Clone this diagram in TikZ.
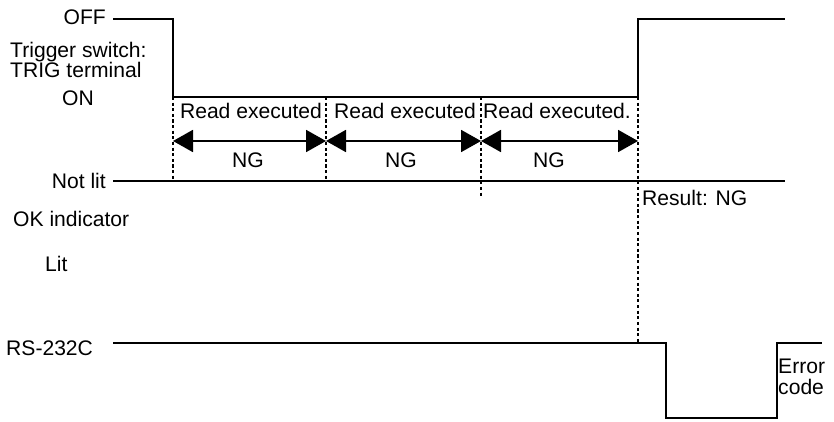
\documentclass[tikz,border=0pt]{standalone}
\usepackage{fontspec}
\setmainfont{Liberation Sans}
\usetikzlibrary{arrows.meta, calc}

\begin{document}
\begin{tikzpicture}[x=0.03cm, y=-0.03cm,
  signal/.style={line width=1.6pt},
  marker/.style={line width=1.2pt, dash pattern=on 2.6pt off 2.2pt},
  span/.style={line width=1.6pt, {Triangle[length=0.6cm, width=0.66cm]}-{Triangle[length=0.6cm, width=0.66cm]}},
  lbl/.style={font=\fontsize{18}{20}\selectfont, inner sep=0pt}]
  \useasboundingbox (0,0) rectangle (834,422);

  % Time marks
  \coordinate (t0) at (173,97);
  \coordinate (t1) at (326,97);
  \coordinate (t2) at (481,97);
  \coordinate (t3) at (638,97);
  \coordinate (a0) at (173,141);
  \coordinate (a1) at (326,141);
  \coordinate (a2) at (481,141);
  \coordinate (a3) at (638,141);

  % Trigger switch
  \node[lbl, anchor=east] (off) at (106,17) {OFF};
  \node[lbl, anchor=west, align=left, font=\fontsize{18}{15}\selectfont] (trig) at (10,60) {Trigger switch:\\TRIG terminal};
  \node[lbl] (on) at (78,98) {ON};
  \draw[signal] (113,19) -- (173,19) -- (t0) -- (t3) -- (638,19) -- (785,19);

  % Read cycles
  \draw[marker] (t0) -- (173,181);
  \draw[marker] (t1) -- (326,181);
  \draw[marker] (t2) -- (481,198);
  \draw[marker] (t3) -- (638,343);
  \node[lbl] (read1) at (251,111) {Read executed};
  \node[lbl] (read2) at (405,111) {Read executed};
  \node[lbl] (read3) at (557,111) {Read executed.};
  \draw[span] (a0) -- (a1);
  \draw[span] (a1) -- (a2);
  \draw[span] (a2) -- (a3);
  \node[lbl] (ng1) at (248,160) {NG};
  \node[lbl] (ng2) at (401,160) {NG};
  \node[lbl] (ng3) at (549,160) {NG};

  % OK indicator
  \node[lbl, anchor=east] (notlit) at (106,181) {Not lit};
  \node[lbl, anchor=west] (okind) at (13,219) {OK indicator};
  \node[lbl, anchor=west] (lit) at (45,264) {Lit};
  \draw[signal] (113,181) -- (785,181);
  \node[lbl, anchor=west] (result) at (642,198) {Result: NG};

  % RS-232C
  \node[lbl, anchor=west] (rs) at (6,348) {RS-232C};
  \draw[signal] (113,343) -- (666,343) -- (666,418) -- (777,418) -- (777,343) -- (822,343);
  \node[lbl, anchor=north west, align=left, font=\fontsize{18}{18}\selectfont] (error) at (778,359) {Error\\code};
\end{tikzpicture}
\end{document}
